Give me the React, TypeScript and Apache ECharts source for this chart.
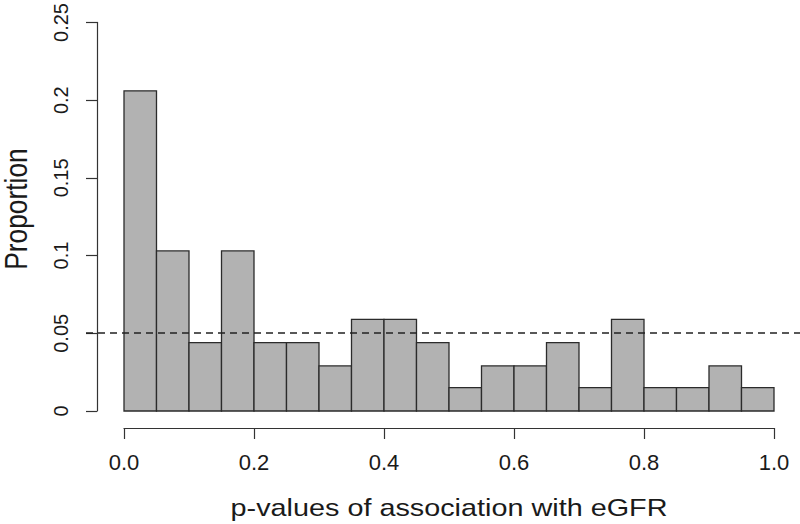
import React, { useEffect, useRef } from "react";
import * as echarts from "echarts";

// Histogram bins (p-value ranges) and the proportion of p-values in each
const binStart = [0.0, 0.05, 0.1, 0.15, 0.2, 0.25, 0.3, 0.35, 0.4, 0.45, 0.5, 0.55, 0.6, 0.65, 0.7, 0.75, 0.8, 0.85, 0.9, 0.95];
const binEnd = [0.05, 0.1, 0.15, 0.2, 0.25, 0.3, 0.35, 0.4, 0.45, 0.5, 0.55, 0.6, 0.65, 0.7, 0.75, 0.8, 0.85, 0.9, 0.95, 1.0];
const proportion = [0.206, 0.103, 0.044, 0.103, 0.044, 0.044, 0.029, 0.059, 0.059, 0.044, 0.015, 0.029, 0.029, 0.044, 0.015, 0.059, 0.015, 0.015, 0.029, 0.015];

const yTickLabels = ["0", "0.05", "0.1", "0.15", "0.2", "0.25"];
const xTickLabels = ["0.0", "0.2", "0.4", "0.6", "0.8", "1.0"];
const referenceLevel = 0.05;

const xTitle = "p-values of association with eGFR";
const yTitle = "Proportion";

const FONT = "'Liberation Sans', Arial, Helvetica, sans-serif";
const INK = "#1a1a1a";
const AXIS = "#333333";

export default function App() {
  const ref = useRef<HTMLDivElement>(null);

  useEffect(() => {
    if (!ref.current) return;
    const chart = echarts.init(ref.current, null, { renderer: "svg" });

    const histData = binStart.map((s, i) => [s, binEnd[i], proportion[i]]);

    chart.setOption({
      animation: false,
      backgroundColor: "#ffffff",
      grid: [
        { left: 124, width: 650, top: 21, height: 390, containLabel: false },
        { left: 86, right: 0, top: 21, height: 390, containLabel: false },
      ],
      xAxis: [
        {
          type: "value",
          gridIndex: 0,
          position: "bottom",
          min: 0,
          max: 1,
          interval: 0.2,
          offset: 17,
          splitLine: { show: false },
          axisLine: { show: true, onZero: false, lineStyle: { color: AXIS, width: 1.2 } },
          axisTick: { show: true, length: 11, inside: false, lineStyle: { color: AXIS, width: 1.2 } },
          axisLabel: {
            margin: 23,
            color: INK,
            fontSize: 22,
            fontFamily: FONT,
            formatter: (_v: number, idx: number) => xTickLabels[idx] ?? "",
          },
        },
        {
          type: "value",
          gridIndex: 1,
          min: 0,
          max: 1,
          show: false,
        },
      ],
      yAxis: [
        {
          type: "value",
          gridIndex: 0,
          position: "left",
          min: 0,
          max: 0.25,
          interval: 0.05,
          offset: 27,
          splitLine: { show: false },
          axisLine: { show: true, onZero: false, lineStyle: { color: AXIS, width: 1.2 } },
          axisTick: { show: true, length: 11, inside: false, lineStyle: { color: AXIS, width: 1.2 } },
          axisLabel: {
            rotate: 90,
            align: "center",
            verticalAlign: "bottom",
            margin: 26,
            color: INK,
            fontSize: 20,
            fontFamily: FONT,
            formatter: (_v: number, idx: number) => yTickLabels[idx] ?? "",
          },
        },
        {
          type: "value",
          gridIndex: 1,
          min: 0,
          max: 0.25,
          show: false,
        },
      ],
      series: [
        {
          type: "custom",
          xAxisIndex: 0,
          yAxisIndex: 0,
          data: histData,
          encode: { x: [0, 1], y: 2 },
          renderItem: (_params: any, api: any) => {
            const topLeft = api.coord([api.value(0), api.value(2)]);
            const bottomRight = api.coord([api.value(1), 0]);
            return {
              type: "rect",
              shape: {
                x: topLeft[0],
                y: topLeft[1],
                width: bottomRight[0] - topLeft[0],
                height: bottomRight[1] - topLeft[1],
              },
              style: { fill: "#b2b2b2", stroke: "#2b2b2b", lineWidth: 1.3 },
            };
          },
        },
        {
          type: "line",
          xAxisIndex: 1,
          yAxisIndex: 1,
          data: [
            [0, referenceLevel],
            [1, referenceLevel],
          ],
          symbol: "none",
          silent: true,
          lineStyle: { color: "#222222", width: 1.3, type: [7, 5] },
          z: 5,
        },
      ],
      graphic: [
        {
          type: "text",
          x: 449,
          y: 508,
          scaleX: 1.2,
          style: {
            text: xTitle,
            fill: INK,
            fontSize: 24,
            fontFamily: FONT,
            align: "center",
            verticalAlign: "middle",
          },
        },
        {
          type: "text",
          x: 16,
          y: 209,
          rotation: Math.PI / 2,
          scaleX: 0.85,
          style: {
            text: yTitle,
            fill: INK,
            fontSize: 31,
            fontFamily: FONT,
            align: "center",
            verticalAlign: "middle",
          },
        },
      ],
    });

    return () => {
      chart.dispose();
    };
  }, []);

  return (
    <div
      ref={ref}
      style={{ position: "fixed", left: 0, top: 0, width: 800, height: 524, background: "#fff" }}
    />
  );
}
